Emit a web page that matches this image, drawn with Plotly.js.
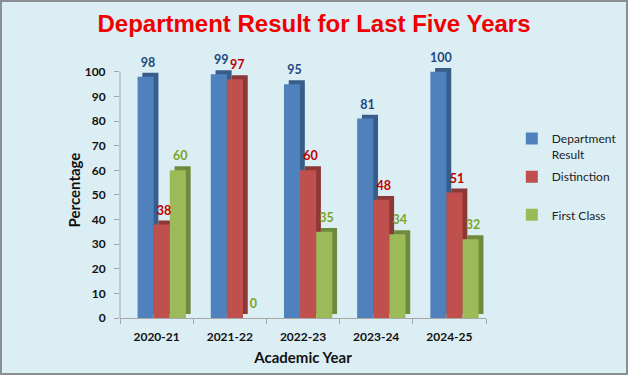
<!DOCTYPE html>
<html>
<head>
<meta charset="utf-8">
<script src="https://cdn.plot.ly/plotly-3.0.1.min.js"></script>
<style>
  html, body { margin: 0; padding: 0; background: #dbeef4; }
  #wrap { position: relative; width: 628px; height: 375px; }
  #chart { width: 628px; height: 375px; }
  #frame { position: absolute; left: 0; top: 0; width: 628px; height: 375px; box-sizing: border-box;
           border: 2px solid #8a8f93; pointer-events: none; }
</style>
</head>
<body>
<div id="wrap"><div id="chart"></div><div id="frame"></div></div>
<script>
const categories = ['2020-21', '2021-22', '2022-23', '2023-24', '2024-25'];
const deptResult = [98, 99, 95, 81, 100];
const distinction = [38, 97, 60, 48, 51];
const firstClass = [60, 0, 35, 34, 32];
const seriesNames = ['Department<br>Result', 'Distinction<br> ', 'First Class'];
const yTicks = [0, 10, 20, 30, 40, 50, 60, 70, 80, 90, 100];

const seriesValues = [deptResult, distinction, firstClass];
const frontColors = ['#4f81bd', '#c0504d', '#9bbb59'];
const sideColors = ['#385d8a', '#8c3836', '#6f8a3c'];
const labelColors = ['#1f497d', '#c00000', '#7ba428'];

const barW = 0.22, startOff = -0.26, dx = 0.065, dy = 1.6;
const traces = [];
// depth (side/top) faces
seriesValues.forEach((vals, i) => {
  traces.push({
    type: 'bar', x: categories, y: vals, base: dy,
    offset: startOff + i * barW + dx, width: barW,
    marker: { color: sideColors[i], line: { width: 0 } },
    showlegend: false, hoverinfo: 'skip'
  });
});
// front faces
seriesValues.forEach((vals, i) => {
  traces.push({
    type: 'bar', x: categories, y: vals, name: seriesNames[i],
    offset: startOff + i * barW, width: barW,
    legendgroup: 'g' + i,
    marker: { color: frontColors[i], line: { width: 0 } }
  });
});
// value labels
seriesValues.forEach((vals, i) => {
  traces.push({
    type: 'bar', x: categories, y: vals, base: dy,
    offset: startOff + i * barW + dx / 2, width: barW,
    marker: { color: 'rgba(0,0,0,0)' },
    text: vals.map(String), textposition: 'outside', cliponaxis: false,
    constraintext: 'none',
    textfont: { family: 'Lato, sans-serif', size: 12.5, color: labelColors[i], weight: 'bold' },
    showlegend: false, hoverinfo: 'skip'
  });
});

const layout = {
  width: 628, height: 375,
  paper_bgcolor: '#dbeef4', plot_bgcolor: 'rgba(0,0,0,0)',
  margin: { l: 120, r: 142, t: 62, b: 57, autoexpand: false },
  barmode: 'overlay',
  title: {
    text: 'Department Result for Last Five Years',
    font: { family: 'Liberation Sans, Arial, sans-serif', size: 24, color: '#f00000', weight: 'bold' },
    x: 0.5, xanchor: 'center', y: 1 - 24 / 375, yanchor: 'middle', yref: 'container'
  },
  xaxis: {
    type: 'category', range: [-0.5, 4.5],
    showline: true, linecolor: '#a6a6a6', linewidth: 1,
    ticks: 'outside', tickson: 'boundaries', ticklen: 5, tickcolor: '#a6a6a6',
    ticklabelstandoff: 8,
    tickfont: { family: 'Lato, sans-serif', size: 12, color: '#111', weight: 'bold' },
    showgrid: false, zeroline: false,
    title: { text: 'Academic Year', standoff: 9,
             font: { family: 'Lato, sans-serif', size: 15, color: '#111', weight: 'bold' } }
  },
  yaxis: {
    range: [0, 104], tickvals: yTicks, ticktext: yTicks.map(String),
    showline: false, ticks: 'outside', ticklen: 5, tickcolor: '#a6a6a6',
    ticklabelstandoff: 6,
    tickfont: { family: 'Lato, sans-serif', size: 12, color: '#111', weight: 'bold' },
    showgrid: false, zeroline: false,
    title: { text: 'Percentage', standoff: 0,
             font: { family: 'Lato, sans-serif', size: 15, color: '#111', weight: 'bold' } }
  },
  shapes: [{
    type: 'line', xref: 'paper', yref: 'y', x0: 0, x1: 0, y0: 0, y1: 100,
    line: { color: '#a6a6a6', width: 1 }, layer: 'below'
  }],
  legend: {
    xref: 'container', yref: 'container',
    x: 0.815, xanchor: 'left', y: 0.669, yanchor: 'top',
    valign: 'top', tracegroupgap: 4, bgcolor: 'rgba(0,0,0,0)',
    font: { family: 'Lato, sans-serif', size: 12, color: '#222' }
  },
  showlegend: true
};

Plotly.newPlot('chart', traces, layout, { displayModeBar: false, staticPlot: true });
</script>
</body>
</html>
